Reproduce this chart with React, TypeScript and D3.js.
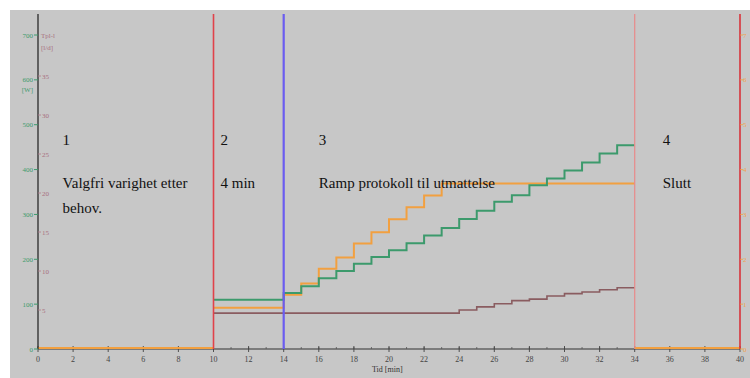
import React from "react";
import * as d3 from "d3";

const W = 750;
const H = 378;

// time in minutes
const xTicksMajor = d3.range(0, 41, 2);
const xTicksMinor = d3.range(0, 41, 1);

const greenTicks = [0, 100, 200, 300, 400, 500, 600, 700];
const pinkTicks = [5, 10, 15, 20, 25, 30, 35];
const orangeTicks = [0, 1, 2, 3, 4, 5, 6, 7];

// green series (power, W): step start times and values
const greenT = [10, 14, 15, 16, 17, 18, 19, 20, 21, 22, 23, 24, 25, 26, 27, 28, 29, 30, 31, 32, 33, 34];
const greenV = [110, 125, 140, 158, 174, 190, 205, 220, 236, 253, 270, 290, 308, 328, 343, 365, 380, 398, 416, 436, 454, 454];

// orange series (right axis)
const orangeT = [10, 14, 15, 16, 17, 18, 19, 20, 21, 22, 23, 34];
const orangeV = [0.92, 1.21, 1.46, 1.79, 2.04, 2.35, 2.6, 2.89, 3.16, 3.42, 3.69, 3.69];
const orangeRestT = [[0, 10], [34, 40]];

// brown series (pink axis)
const brownT = [10, 24, 25, 26, 27, 28, 29, 30, 31, 32, 33, 34];
const brownV = [4.6, 5.0, 5.4, 5.8, 6.2, 6.4, 6.8, 7.1, 7.3, 7.6, 7.85, 7.85];

const phaseLines = [
  { t: 10, color: "#e0424a", w: 1.6 },
  { t: 14, color: "#6a5cf0", w: 2.2 },
  { t: 34, color: "#e88a8a", w: 1.2 },
  { t: 40, color: "#d8323a", w: 1.6 },
];

const phaseLabels = [
  { t: 1.4, num: "1", lines: ["Valgfri varighet etter", "behov."] },
  { t: 10.4, num: "2", lines: ["4 min"] },
  { t: 16, num: "3", lines: ["Ramp protokoll til utmattelse"] },
  { t: 35.6, num: "4", lines: ["Slutt"] },
];

const x = d3.scaleLinear().domain([0, 40]).range([38, 740]);
const yG = d3.scaleLinear().domain([0, 700]).range([349, 35]);
const yP = d3.scaleLinear().domain([0, 35]).range([349, 76]);
const yO = d3.scaleLinear().domain([0, 7]).range([349, 35]);

function stepPath(ts: number[], vs: number[], ys: d3.ScaleLinear<number, number>) {
  const line = d3
    .line<[number, number]>()
    .x((d) => x(d[0]))
    .y((d) => ys(d[1]))
    .curve(d3.curveStepAfter);
  return line(ts.map((t, i) => [t, vs[i]] as [number, number])) || "";
}

export default function App() {
  const serif = "'Liberation Serif', 'DejaVu Serif', serif";
  return (
    <svg
      width={W}
      height={H}
      style={{ position: "absolute", left: 0, top: 0, display: "block" }}
      fontFamily={serif}
    >
      <rect x={0} y={0} width={W} height={H} fill="#ffffff" />
      <rect x={10} y={10} width={W - 10} height={H - 10} fill="#c7c7c7" />

      {/* x axis */}
      <line x1={x(0)} x2={x(40)} y1={349} y2={349} stroke="#333" strokeWidth={1.2} />
      {xTicksMinor.map((t) => (
        <line key={"m" + t} x1={x(t)} x2={x(t)} y1={347} y2={349} stroke="#555" strokeWidth={0.8} />
      ))}
      {xTicksMajor.map((t) => (
        <g key={"M" + t}>
          <line x1={x(t)} x2={x(t)} y1={346} y2={352} stroke="#444" strokeWidth={0.9} />
          <text x={x(t)} y={362} fontSize={8} textAnchor="middle" fill="#444">
            {t}
          </text>
        </g>
      ))}
      <text x={372} y={372} fontSize={8} fill="#333">
        Tid [min]
      </text>

      {/* orange rest segments */}
      {orangeRestT.map((seg, i) => (
        <line
          key={"or" + i}
          x1={x(seg[0])}
          x2={x(seg[1])}
          y1={yO(0) - 1}
          y2={yO(0) - 1}
          stroke="#f2a040"
          strokeWidth={2}
        />
      ))}

      {/* series */}
      <path d={stepPath(brownT, brownV, yP)} fill="none" stroke="#8a5c60" strokeWidth={1.6} />
      <path d={stepPath(orangeT, orangeV, yO)} fill="none" stroke="#f2a040" strokeWidth={2} />
      <path d={stepPath(greenT, greenV, yG)} fill="none" stroke="#3c9a6c" strokeWidth={2} />

      {/* phase lines */}
      {phaseLines.map((p) => (
        <line key={"p" + p.t} x1={x(p.t)} x2={x(p.t)} y1={14} y2={349} stroke={p.color} strokeWidth={p.w} />
      ))}

      {/* left axis */}
      <line x1={38} x2={38} y1={14} y2={349} stroke="#2a2a2a" strokeWidth={1.3} />
      {greenTicks.map((v) => (
        <g key={"g" + v}>
          <line x1={34} x2={38} y1={yG(v)} y2={yG(v)} stroke="#3c9a6c" strokeWidth={1} />
          <text x={33} y={yG(v) + 2.5} fontSize={7} textAnchor="end" fill="#3c9a6c">
            {v}
          </text>
        </g>
      ))}
      <text x={33} y={yG(600) + 12} fontSize={7} textAnchor="end" fill="#3c9a6c">
        [W]
      </text>
      {pinkTicks.map((v) => (
        <g key={"pk" + v}>
          <line x1={38} x2={41} y1={yP(v)} y2={yP(v)} stroke="#b07a8a" strokeWidth={0.8} />
          <text x={42} y={yP(v) + 2.5} fontSize={7} fill="#a87080">
            {v}
          </text>
        </g>
      ))}
      <text x={41} y={38} fontSize={7} fill="#a87080">
        Tpl-l
      </text>
      <text x={41} y={50} fontSize={7} fill="#a87080">
        [l/d]
      </text>

      {/* right axis */}
      {orangeTicks.map((v) => (
        <g key={"o" + v}>
          <line x1={740} x2={743} y1={yO(v)} y2={yO(v)} stroke="#f2a040" strokeWidth={0.8} />
          <text x={743} y={yO(v) + 2.5} fontSize={7} fill="#f0a050">
            {v}
          </text>
        </g>
      ))}

      {/* phase labels */}
      {phaseLabels.map((p) => (
        <g key={"l" + p.num} fontSize={15} fill="#111">
          <text x={x(p.t)} y={145}>
            {p.num}
          </text>
          {p.lines.map((l, i) => (
            <text key={i} x={x(p.t)} y={188 + i * 25}>
              {l}
            </text>
          ))}
        </g>
      ))}
    </svg>
  );
}
